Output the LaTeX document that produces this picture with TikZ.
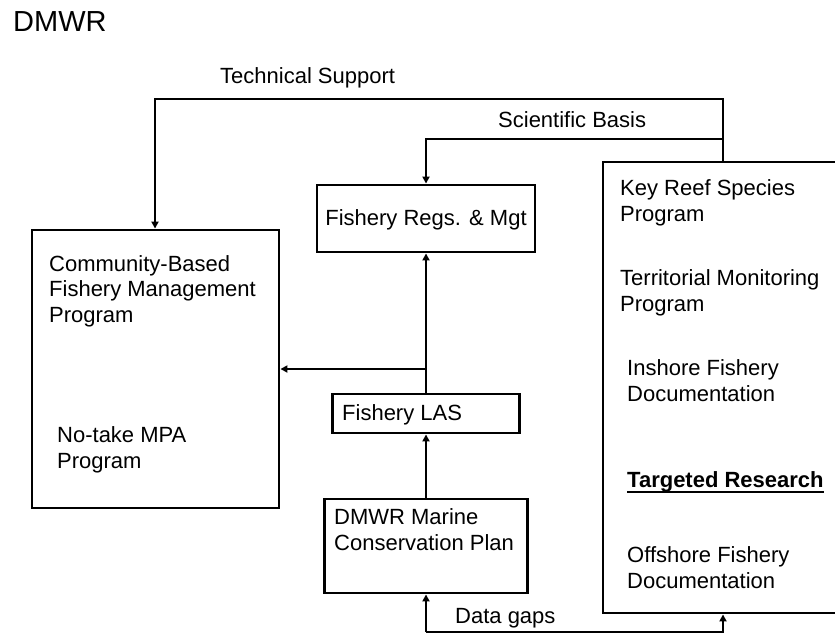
\documentclass[tikz,border=0pt]{standalone}
\usepackage{fontspec}
\setmainfont{Liberation Sans}
\usetikzlibrary{arrows.meta}
\tikzset{
  box/.style={draw, line width=2.9pt, inner sep=0pt},
  txt/.style={inner sep=0pt, anchor=base west, align=left, font=\fontsize{22}{25.5}\selectfont},
  arr/.style={line width=2.5pt, -{Triangle[length=7pt,width=7pt]}},
  conn/.style={line width=2.5pt}
}
\begin{document}
\begin{tikzpicture}[x=1pt,y=-1pt]
\useasboundingbox (0,0) rectangle (835,634);
% title
\node[txt, font=\fontsize{29}{31}\selectfont] (title) at (13,32) {DMWR};
% boxes
\node[box, minimum width=247pt, minimum height=278pt] (cb) at (155.5,369) {};
\node[box, minimum width=218pt, minimum height=67pt] (fr) at (426,218.5) {};
\node[box, minimum width=187pt, minimum height=39pt] (las) at (426,413.5) {};
\node[box, minimum width=203pt, minimum height=94pt] (mc) at (426,546) {};
\node[box, minimum width=242pt, minimum height=451pt] (kr) at (724,387.5) {};
% texts (anchor = baseline of the last line)
\node[txt] (cbt) at (49,322) {Community-Based\\Fishery Management\\Program};
\node[txt] (mpa) at (57,468) {No-take MPA\\Program};
\node[inner sep=0pt, anchor=base, font=\fontsize{22}{25.5}\selectfont] (frt) at (426,225) {Fishery Regs. \& Mgt};
\node[txt] (last) at (342,420) {Fishery LAS};
\node[txt] (mct) at (334,550) {DMWR Marine\\Conservation Plan};
\node[txt] (k1) at (620,221) {Key Reef Species\\Program};
\node[txt] (k2) at (620,311) {Territorial Monitoring\\Program};
\node[txt] (k3) at (627,401) {Inshore Fishery\\Documentation};
\node[txt, font=\fontsize{22}{25.5}\selectfont\bfseries] (k4) at (627,487) {Targeted Research};
\node[txt] (k5) at (627,588) {Offshore Fishery\\Documentation};
\draw[line width=2pt] ([yshift=-5pt]k4.base west) -- ([yshift=-5pt]k4.base east);
% connector labels
\node[txt] (tsl) at (220,83) {Technical Support};
\node[txt] (sbl) at (498,127) {Scientific Basis};
\node[txt] (dgl) at (455,623) {Data gaps};
% connectors
\coordinate (tR) at (723,99);
\coordinate (tL) at (155,99);
\coordinate (sR) at (723,139);
\coordinate (dg) at (426,632);
\coordinate (dR) at (723,632);
\draw[arr] (tR |- kr.north) -- (tR) -- (tL) -- (tL |- cb.north);
\draw[arr] (sR) -| (fr.north);
\draw[arr] (las.north) -- (fr.south);
\draw[arr] (fr.south |- cb.east) -- (cb.east);
\draw[arr] (mc.north) -- (las.south);
\draw[arr] (dg) -- (mc.south);
\draw[arr] (dg) -- (dR) -- (dR |- kr.south);
\end{tikzpicture}
\end{document}
